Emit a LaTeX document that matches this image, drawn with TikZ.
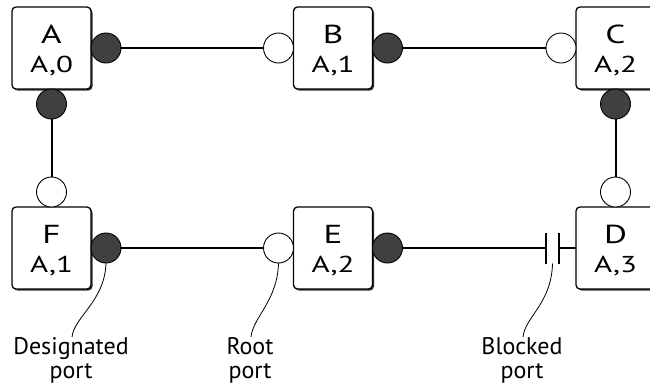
\documentclass[tikz,border=0pt]{standalone}
\usepackage{fontspec}
\usepackage{graphicx}
\setmainfont{PT Sans}
\usetikzlibrary{positioning}
\usetikzlibrary{shadows}
\definecolor{portgray}{RGB}{64,64,64}
\newcommand\bridgetext[2]{\rule{0pt}{23pt}\fontsize{26}{29}\selectfont\scalebox{1.35}[1]{#1}\\\fontsize{23}{29}\selectfont\scalebox{1.35}[1]{#2}}

\begin{document}
\begin{tikzpicture}[x=1pt,y=-1pt]
		\tikzset{bridge/.style={draw, line width=1.3pt, fill=white, rounded corners=4pt, minimum width=79pt, minimum height=82pt, inner sep=0pt, outer sep=0pt, align=center, font=\fontsize{23}{29}\selectfont, drop shadow={shadow xshift=1.5pt, shadow yshift=-1.5pt, opacity=1, fill=black!80}}};
		\tikzset{port/.style={circle, draw, line width=0.9pt, minimum size=30pt, inner sep=0pt, outer sep=0pt}};
		\tikzset{desig/.style={port, fill=portgray}};
		\tikzset{root/.style={port, fill=white}};
		\tikzset{link/.style={line width=2pt}};
		\tikzset{callout/.style={line width=0.8pt}};
		\tikzset{portlabel/.style={font=\fontsize{24}{24}\selectfont, align=center, inner sep=0pt}};
		\useasboundingbox (0,0) rectangle (650,389);
		% bridges
		\node[bridge] (A) at (51.5,48) {\bridgetext{A}{A,0}};
		\node[bridge] (B) at (333,48) {\bridgetext{B}{A,1}};
		\node[bridge] (C) at (615.5,48) {\bridgetext{C}{A,2}};
		\node[bridge] (F) at (51.5,248) {\bridgetext{F}{A,1}};
		\node[bridge] (E) at (333,248) {\bridgetext{E}{A,2}};
		\node[bridge] (D) at (615.5,248) {\bridgetext{D}{A,3}};
		% ports
		\node[desig, right=0pt of A] (Ar) {};
		\node[desig, below=0pt of A] (Ab) {};
		\node[root, left=0pt of B] (Bl) {};
		\node[desig, right=0pt of B] (Br) {};
		\node[root, left=0pt of C] (Cl) {};
		\node[desig, below=0pt of C] (Cb) {};
		\node[root, above=0pt of F] (Ft) {};
		\node[desig, right=0pt of F] (Fr) {};
		\node[root, left=0pt of E] (El) {};
		\node[desig, right=0pt of E] (Er) {};
		\node[root, above=0pt of D] (Dt) {};
		\node[minimum width=13pt, minimum height=31pt, inner sep=0pt, outer sep=0pt] (blk) at (552.5,248) {};
		% links
		\draw[link] (Ar) -- (Bl);
		\draw[link] (Br) -- (Cl);
		\draw[link] (Ab) -- (Ft);
		\draw[link] (Cb) -- (Dt);
		\draw[link] (Fr) -- (El);
		\draw[link] (Er) -- (blk.west);
		\draw[link] (blk.east) -- (D);
		\draw[link] (blk.north west) -- (blk.south west);
		\draw[link] (blk.north east) -- (blk.south east);
		% labels
		\node[portlabel, anchor=north] (desigtxt) at (71,337) {Designated\\port};
		\node[portlabel, anchor=north] (roottxt) at (250,337) {Root\\port};
		\node[portlabel, anchor=north] (blocktxt) at (522,337) {Blocked\\port};
		\draw[callout] (Fr.south) .. controls +(-1,38) and +(2,-20) .. ([xshift=1pt]desigtxt.north);
		\draw[callout] (El.south) .. controls +(-1,38) and +(2,-20) .. ([xshift=1pt]roottxt.north);
		\draw[callout] (blk.south) .. controls +(-1,40) and +(2,-20) .. ([xshift=1pt]blocktxt.north);
	\end{tikzpicture}
\end{document}
